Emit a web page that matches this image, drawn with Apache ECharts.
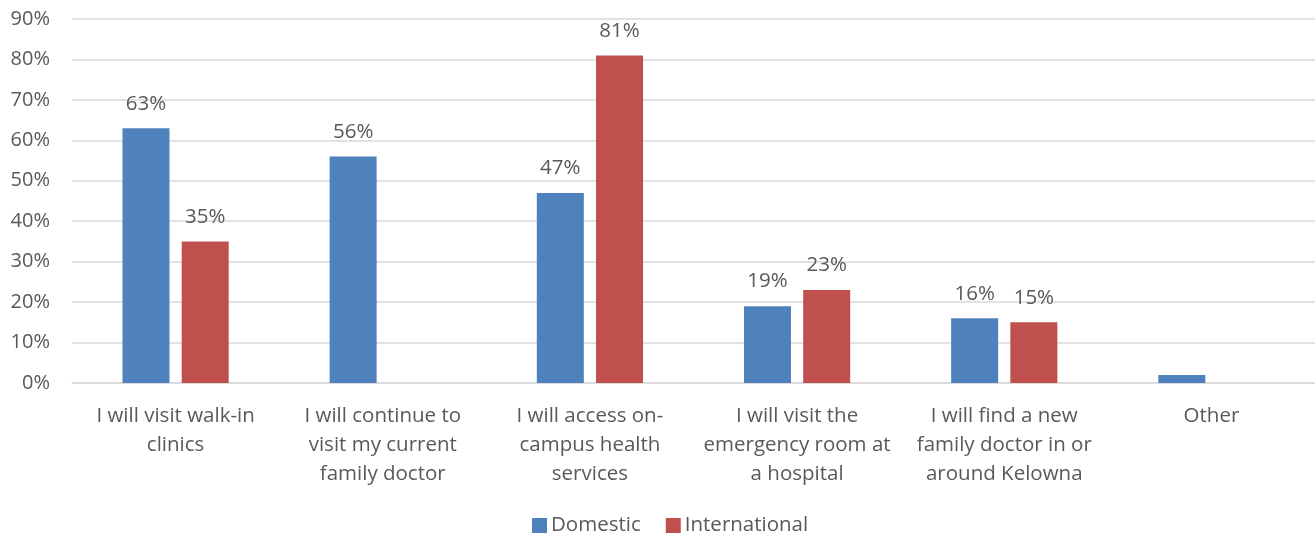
<!DOCTYPE html>
<html>
<head>
<meta charset="utf-8">
<script src="https://cdn.jsdelivr.net/npm/echarts@6/dist/echarts.min.js"></script>
<style>
  html, body { margin: 0; padding: 0; background: #fff; }
  #chart { width: 1315px; height: 535px; }
</style>
</head>
<body>
<div id="chart"></div>
<script>
// Where students plan to get health care
const categories = [
  'I will visit walk-in\nclinics',
  'I will continue to\nvisit my current\nfamily doctor',
  'I will access on-\ncampus health\nservices',
  'I will visit the\nemergency room at\na hospital',
  'I will find a new\nfamily doctor in or\naround Kelowna',
  'Other'
];
const domestic = [63, 56, 47, 19, 16, 2];
const international = [35, null, 81, 23, 15, null];
// values that carry no printed label
const domesticUnlabelled = [5];
const yTicks = { min: 0, max: 90, interval: 10 };

const FONT = '"Open Sans", sans-serif';
const TEXT = '#595959';

function seriesData(values, hidden) {
  return values.map((v, i) => (hidden.indexOf(i) >= 0
    ? { value: v, label: { show: false } }
    : v));
}

const chart = echarts.init(document.getElementById('chart'));
chart.setOption({
  animation: false,
  textStyle: { fontFamily: FONT },
  grid: { left: 72, right: 0, top: 19, bottom: 152, containLabel: false },
  legend: {
    bottom: -6,
    left: 527,
    itemWidth: 15,
    itemHeight: 15,
    itemGap: 25,
    icon: 'rect',
    textStyle: { color: TEXT, fontSize: 20.5, fontFamily: FONT, padding: [0, 0, 0, -1] }
  },
  xAxis: {
    type: 'category',
    data: categories,
    axisLine: { lineStyle: { color: '#D9D9D9', width: 1.5 } },
    axisTick: { show: false },
    axisLabel: {
      color: TEXT, fontSize: 20.5, fontFamily: FONT, lineHeight: 29,
      margin: 19, interval: 0
    }
  },
  yAxis: {
    type: 'value',
    min: yTicks.min, max: yTicks.max, interval: yTicks.interval,
    axisLine: { show: false },
    axisTick: { show: false },
    splitLine: { lineStyle: { color: '#D9D9D9', width: 1.5 } },
    axisLabel: {
      color: TEXT, fontSize: 20, fontFamily: FONT, margin: 22,
      formatter: v => v + '%'
    }
  },
  series: [
    {
      name: 'Domestic', type: 'bar',
      data: seriesData(domestic, domesticUnlabelled),
      barWidth: 47, barGap: '26%',
      itemStyle: { color: '#4F81BD' },
      label: {
        show: true, position: 'top', distance: 14,
        color: TEXT, fontSize: 20.5, fontFamily: FONT,
        formatter: p => p.value + '%'
      }
    },
    {
      name: 'International', type: 'bar',
      data: international,
      barWidth: 47,
      itemStyle: { color: '#C0504D' },
      label: {
        show: true, position: 'top', distance: 14,
        color: TEXT, fontSize: 20.5, fontFamily: FONT,
        formatter: p => p.value + '%'
      }
    }
  ]
});
</script>
</body>
</html>
